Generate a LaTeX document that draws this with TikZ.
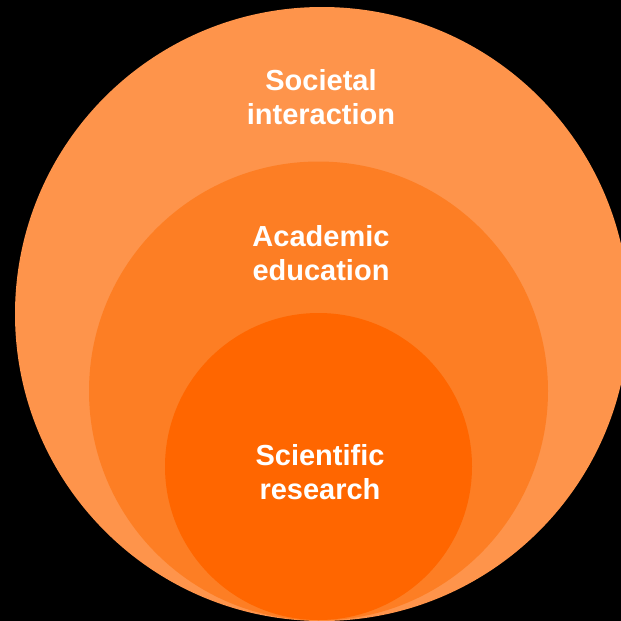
\documentclass[tikz,border=0pt]{standalone}
\usepackage{fontspec}
\setmainfont{Liberation Sans}
\definecolor{outerc}{RGB}{254,148,75}
\definecolor{midc}{RGB}{253,126,36}
\definecolor{innerc}{RGB}{255,102,0}
\begin{document}
\begin{tikzpicture}[x=1pt,y=-1pt,
  lbl/.style={text=white,font=\fontsize{29}{34}\selectfont\bfseries,align=center}]
\useasboundingbox (0,0) rectangle (621,621);
\clip (0,0) rectangle (621,621);
\fill[black] (0,0) rectangle (621,621);
\fill[outerc] (322,314) circle[radius=307];
\fill[midc] (318.5,391) circle[radius=229.5];
\fill[innerc] (318.5,466.5) circle[radius=153.5];
\node[lbl] (soc) at (321,97.5) {Societal\\interaction};
\node[lbl] (aca) at (321,253) {Academic\\education};
\node[lbl] (sci) at (320,472) {Scientific\\research};
\end{tikzpicture}
\end{document}
